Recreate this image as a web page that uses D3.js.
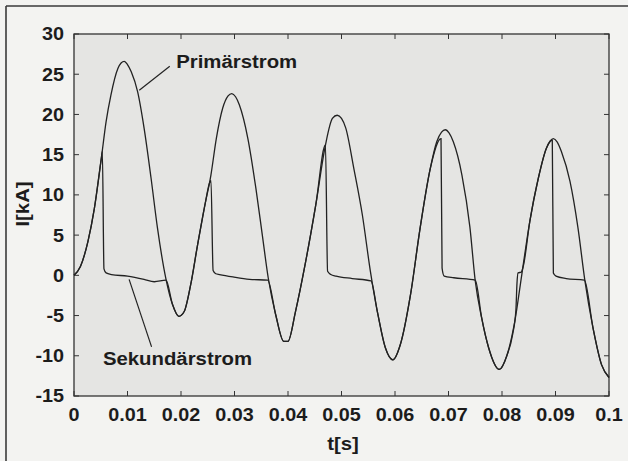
<!DOCTYPE html>
<html><head><meta charset="utf-8">
<script src="https://cdn.jsdelivr.net/npm/d3@7"></script>
<style>
html,body{margin:0;padding:0;background:#f3f3f1;}
svg{display:block;}
text{font-family:"Liberation Sans",Arial,Helvetica,sans-serif;font-weight:bold;fill:#1c1c1c;}
</style></head>
<body>
<svg id="chart" width="628" height="461"></svg>
<script>
// ---- data ----
const xTicks = [0, 0.01, 0.02, 0.03, 0.04, 0.05, 0.06, 0.07, 0.08, 0.09, 0.1];
const xTickLabels = ["0","0.01","0.02","0.03","0.04","0.05","0.06","0.07","0.08","0.09","0.1"];
const yTicks = [-15, -10, -5, 0, 5, 10, 15, 20, 25, 30];
const yTickLabels = ["-15","-10","-5","0","5","10","15","20","25","30"];

const primT = [0,0.0012,0.0026,0.0038,0.0051,0.0060,0.0069,0.0082,0.0088,0.0094,0.0100,0.0107,0.0119,0.0131,0.0144,0.0156,0.0172,0.0184,0.0196,0.0206,0.0218,0.0231,0.0244,0.0256,0.0266,0.0278,0.0288,0.0295,0.0302,0.0309,0.0325,0.0340,0.0352,0.0363,0.0377,0.0392,0.0400,0.0414,0.0433,0.0452,0.0470,0.0483,0.0492,0.0500,0.0508,0.0523,0.0539,0.0554,0.0567,0.0582,0.0596,0.0610,0.0629,0.0647,0.0666,0.0678,0.0687,0.0694,0.0701,0.0709,0.0725,0.0740,0.0750,0.0762,0.0775,0.0795,0.0809,0.0824,0.0837,0.0852,0.0868,0.0883,0.0890,0.0896,0.0903,0.0911,0.0927,0.0942,0.0955,0.0970,0.0986,0.1000];
const primI = [0,1.1,4.2,8.3,14.5,19.1,22.4,25.7,26.4,26.6,26.2,25.3,22.8,18.3,12.1,5.9,-0.5,-3.6,-5.1,-4.5,-1.2,3.8,8.5,12.5,17.0,20.8,22.3,22.6,22.2,21.2,17.0,10.8,5.0,-0.3,-4.9,-8.2,-8.2,-4.5,1.7,8.8,16.2,19.5,19.9,19.5,18.3,13.3,7.5,0.5,-4.5,-9.0,-10.5,-8.6,-2.4,5.9,13.3,16.6,17.8,18.1,17.7,16.6,12.5,6.0,-0.7,-5.3,-9.0,-11.7,-10.0,-5.7,0.1,6.7,12.1,15.8,16.7,17.0,16.6,15.4,11.7,5.9,-0.7,-6.5,-11.1,-12.7];

const secT = [0,0.0012,0.0026,0.0038,0.0051,0.0053,0.0056,0.0060,0.0070,0.0100,0.0131,0.0150,0.0172,0.0184,0.0196,0.0206,0.0218,0.0231,0.0244,0.0254,0.0256,0.0260,0.0265,0.0272,0.0297,0.0328,0.0362,0.0377,0.0392,0.0400,0.0414,0.0433,0.0452,0.0470,0.0474,0.0480,0.0490,0.0520,0.0555,0.0567,0.0582,0.0596,0.0610,0.0629,0.0647,0.0666,0.0686,0.0688,0.0692,0.0710,0.0750,0.0762,0.0775,0.0795,0.0809,0.0820,0.0826,0.0828,0.0830,0.0836,0.0840,0.0852,0.0868,0.0883,0.0894,0.0896,0.0901,0.0920,0.0954,0.0970,0.0986,0.1000];
const secI = [0,1.1,4.2,8.3,14.5,15.4,0.8,0.3,0.1,-0.1,-0.5,-0.8,-0.6,-3.6,-5.1,-4.5,-1.2,3.8,8.5,11.6,11.8,0.6,0.2,0.1,-0.2,-0.5,-0.6,-4.9,-8.2,-8.2,-4.5,1.7,8.8,16.2,0.5,0.1,-0.1,-0.4,-0.7,-4.5,-9.0,-10.5,-8.6,-2.4,5.9,13.3,17.0,0.9,-0.1,-0.3,-0.6,-5.3,-9.0,-11.7,-10.0,-7.3,-4.3,-1.0,0.3,0.4,1.2,6.7,12.1,15.8,16.8,0.3,-0.1,-0.4,-0.6,-6.5,-11.1,-12.7];

// annotation anchor points (data units)
const primLabel = {text:"Primärstrom", t:0.0191, I:25.8};
const primLeader = [[0.0179, 26.0],[0.0122, 23.0]];
const secLabel = {text:"Sekundärstrom", t:0.0054, I:-11.1};
const secLeader = [[0.0145, -8.9],[0.0103, -0.5]];

// ---- layout ----
const svg = d3.select("#chart");
const L = 74, R = 609, T = 34, B = 396;
const x = d3.scaleLinear().domain([0, 0.1]).range([L, R]);
const y = d3.scaleLinear().domain([-15, 30]).range([B, T]);
const SX = 1.1; // horizontal stretch of the scanned Helvetica

function label(px, py, str, size, anchor, dy, rot) {
  const t = svg.append("text")
    .attr("transform", `translate(${px},${py})` + (rot ? ` rotate(${rot})` : "") + ` scale(${SX},1)`)
    .attr("font-size", size).attr("text-anchor", anchor || "start").text(str);
  if (dy) t.attr("dy", dy);
  return t;
}

// outer frame (scan border)
svg.append("line").attr("x1",6).attr("y1",6).attr("x2",628).attr("y2",6).attr("stroke","#3a3a3a").attr("stroke-width",1.6);
svg.append("line").attr("x1",6).attr("y1",6).attr("x2",6).attr("y2",461).attr("stroke","#3a3a3a").attr("stroke-width",1.6);

// plot area
svg.append("rect").attr("x",L).attr("y",T).attr("width",R-L).attr("height",B-T).attr("fill","#e5e5e3");

// ticks (inward on all four sides)
const tl = 5;
const tg = svg.append("g").attr("stroke","#333").attr("stroke-width",1);
xTicks.forEach(v => {
  tg.append("line").attr("x1",x(v)).attr("x2",x(v)).attr("y1",B).attr("y2",B-tl);
  tg.append("line").attr("x1",x(v)).attr("x2",x(v)).attr("y1",T).attr("y2",T+tl);
});
yTicks.forEach(v => {
  tg.append("line").attr("x1",L).attr("x2",L+tl).attr("y1",y(v)).attr("y2",y(v));
  tg.append("line").attr("x1",R).attr("x2",R-tl).attr("y1",y(v)).attr("y2",y(v));
});

// border
svg.append("rect").attr("x",L).attr("y",T).attr("width",R-L).attr("height",B-T).attr("fill","none").attr("stroke","#333").attr("stroke-width",1.3);

// tick labels
xTicks.forEach((v,i) => label(x(v), 421, xTickLabels[i], 18, "middle"));
yTicks.forEach((v,i) => label(64, y(v), yTickLabels[i], 18, "end", "0.36em"));

// axis titles
label(343, 450, "t[s]", 18.5, "middle");
label(29, 204, "I[kA]", 18.5, "middle", null, -90);

// curves
const line = d3.line().x(d => x(d[0])).y(d => y(d[1])).curve(d3.curveMonotoneX);
const prim = primT.map((t,i)=>[t, primI[i]]);
const sec = secT.map((t,i)=>[t, secI[i]]);
const cg = svg.append("g");
cg.append("path").datum(sec).attr("d",line).attr("fill","none").attr("stroke","#222").attr("stroke-width",1.3);
cg.append("path").datum(prim).attr("d",line).attr("fill","none").attr("stroke","#222").attr("stroke-width",1.3);

// annotations
const ll = d3.line().x(d=>x(d[0])).y(d=>y(d[1]));
svg.append("path").datum(primLeader).attr("d",ll).attr("stroke","#222").attr("stroke-width",1.2).attr("fill","none");
svg.append("path").datum(secLeader).attr("d",ll).attr("stroke","#222").attr("stroke-width",1.2).attr("fill","none");
label(x(primLabel.t), y(primLabel.I), primLabel.text, 18.5, "start");
label(x(secLabel.t), y(secLabel.I), secLabel.text, 18.5, "start");
</script>
</body></html>
